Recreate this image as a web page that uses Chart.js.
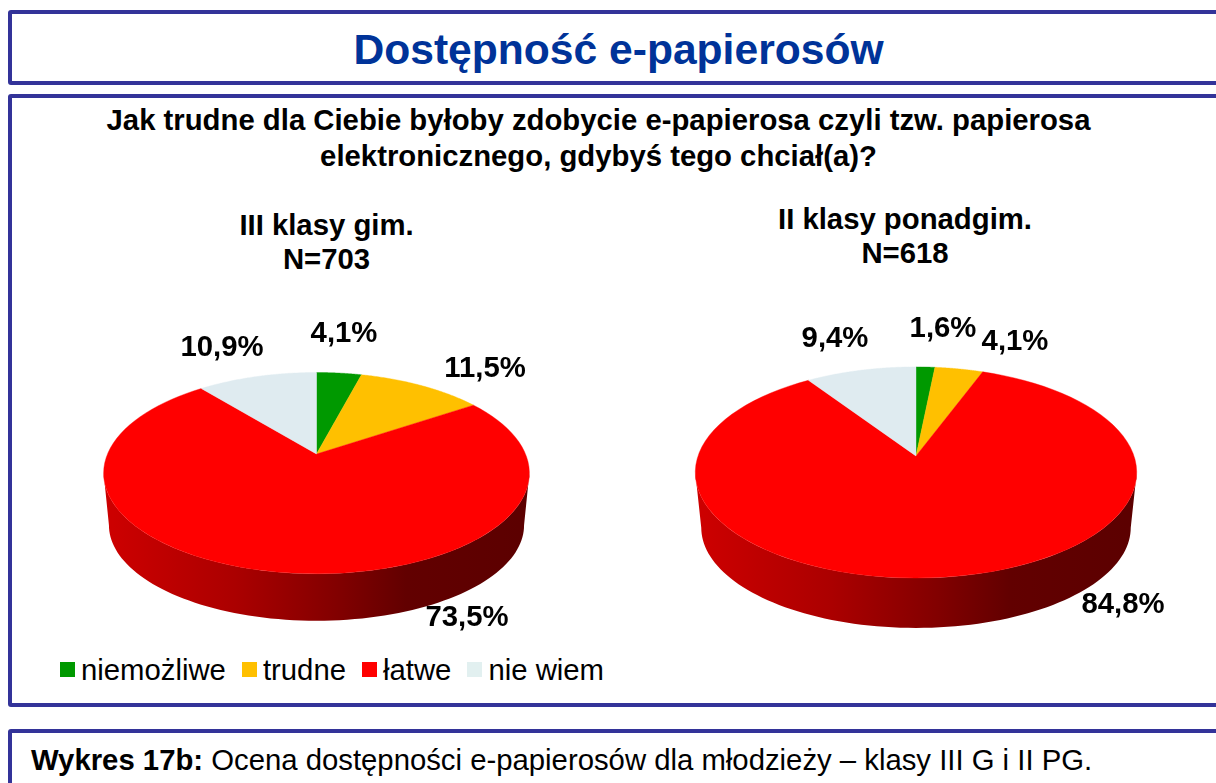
<!DOCTYPE html>
<html lang="pl">
<head>
<meta charset="utf-8">
<title>Dostępność e-papierosów</title>
<script src="https://cdn.jsdelivr.net/npm/chart.js@4"></script>
<style>
  html,body{margin:0;padding:0;background:#fff;width:1216px;height:783px;overflow:hidden;font-family:"Liberation Sans",Arial,sans-serif;color:#000}
  .frame{position:absolute;box-sizing:border-box;border:4px solid #333399;border-radius:3px;left:8px;width:1220px;background:#fff}
  .t{position:absolute;white-space:nowrap;text-align:center}
  canvas{position:absolute}
  #legend{position:absolute;left:60px;top:651px;height:38px;display:flex;align-items:center;font-size:29.3px;white-space:nowrap}
  #legend i{display:inline-block;width:15px;height:15px;margin-right:6px;margin-top:-2px}
  #legend span{margin-right:16px}
</style>
</head>
<body>
<div class="frame" style="top:10px;height:75px"></div>
<div class="frame" style="top:94px;height:613px"></div>
<div class="frame" style="top:729px;height:80px"></div>
<div class="t" style="left:0;width:1237px;top:24px;font-size:42.6px;line-height:50px;font-weight:bold;color:#003399">Dostępność e-papierosów</div>
<div class="t" style="left:0;width:1197px;top:102px;font-size:29.3px;line-height:36px;font-weight:bold">Jak trudne dla Ciebie byłoby zdobycie e-papierosa czyli tzw. papierosa<br>elektronicznego, gdybyś tego chciał(a)?</div>
<div class="t" style="left:126.5px;width:400px;top:208px;font-size:29.3px;line-height:34px;font-weight:bold">III klasy gim.<br>N=703</div>
<div class="t" style="left:705px;width:400px;top:202px;font-size:29.3px;line-height:34px;font-weight:bold">II klasy ponadgim.<br>N=618</div>
<div id="legend"></div>
<div class="t" style="left:31px;top:742px;font-size:29.3px;line-height:36px;text-align:left"><b>Wykres 17b:</b> Ocena dostępności e-papierosów dla młodzieży – klasy III G i II PG.</div>
<canvas id="c1" style="left:20px;top:310px"></canvas>
<canvas id="c2" style="left:620px;top:300px"></canvas>
<script>
const categories = ["niemożliwe", "trudne", "łatwe", "nie wiem"];
const gimValues = [4.1, 11.5, 73.5, 10.9];
const pgValues = [1.6, 4.1, 84.8, 9.4];
const sliceColors = ["#009900", "#FFC000", "#FF0000", "#DFEBF0"];
const legendColors = ["#009900", "#FFC000", "#FF0000", "#E2F0F0"];

// legend
document.getElementById('legend').innerHTML = categories.map((c, i) =>
  `<i style="background:${legendColors[i]}"></i><span>${c}</span>`).join('');

// Perspective plate: the slices come from the library's arc angles and are projected.
function project(g, theta, bottom) {
  const u = Math.sin(theta), v = -Math.cos(theta);
  const w = 1 - g.k * v;
  const sx = bottom ? g.bottomScaleX : 1, sy = bottom ? g.bottomScaleY : 1;
  return {
    x: g.cx + g.a * sx * u / w,
    y: (bottom ? g.bottomApexY : g.apexY) + g.b * sy * v / w
  };
}
const shade = [[0, .8], [.3, .67], [.55, .51], [.72, .385], [1, .36]];
function rgb(hex) { const n = parseInt(hex.slice(1), 16); return [n >> 16, (n >> 8) & 255, n & 255]; }

const pie3d = {
  id: 'pie3d',
  beforeDatasetDraw(chart, args, opts) {
    const g = opts.geometry, ctx = chart.ctx, meta = args.meta, N = 90;
    const colors = chart.data.datasets[0].backgroundColor;
    const toTheta = a => a + Math.PI / 2; // library angle -> clockwise from top
    const lo = Math.acos(-g.k), hi = 2 * Math.PI - lo; // silhouette points of the plate
    // side wall
    meta.data.forEach((arc, i) => {
      const s = Math.max(toTheta(arc.startAngle), lo), e = Math.min(toTheta(arc.endAngle), hi);
      if (e <= s) return;
      const left = g.cx - g.a * g.bottomScaleX, right = g.cx + g.a * g.bottomScaleX;
      const gr = ctx.createLinearGradient(left, 0, right, 0);
      const c = rgb(colors[i]);
      shade.forEach(([p, f]) => gr.addColorStop(p, `rgb(${c[0]*f},${c[1]*f},${c[2]*f})`));
      ctx.beginPath();
      for (let j = 0; j <= N; j++) { const p = project(g, s + (e - s) * j / N, false); j ? ctx.lineTo(p.x, p.y) : ctx.moveTo(p.x, p.y); }
      for (let j = N; j >= 0; j--) { const p = project(g, s + (e - s) * j / N, true); ctx.lineTo(p.x, p.y); }
      ctx.closePath();
      ctx.fillStyle = gr;
      ctx.fill();
    });
    // top face
    meta.data.forEach((arc, i) => {
      const s = toTheta(arc.startAngle), e = toTheta(arc.endAngle);
      ctx.beginPath();
      ctx.moveTo(g.cx, g.apexY);
      for (let j = 0; j <= N; j++) { const p = project(g, s + (e - s) * j / N, false); ctx.lineTo(p.x, p.y); }
      ctx.closePath();
      ctx.fillStyle = colors[i];
      ctx.fill();
      ctx.strokeStyle = colors[i];
      ctx.lineWidth = .4;
      ctx.stroke();
    });
    return false;
  },
  afterDatasetsDraw(chart, args, opts) {
    const ctx = chart.ctx, vals = chart.data.datasets[0].data;
    ctx.save();
    ctx.font = 'bold 29.3px "Liberation Sans", Arial, sans-serif';
    ctx.fillStyle = '#000';
    ctx.textAlign = 'center';
    ctx.textBaseline = 'middle';
    vals.forEach((v, i) => {
      const [x, y] = opts.labelAt[i];
      ctx.fillText(v.toFixed(1).replace('.', ',') + '%', x, y);
    });
    ctx.restore();
  }
};

function makePie(id, values, w, h, geometry, labelAt) {
  const el = document.getElementById(id);
  el.width = w; el.height = h; el.style.width = w + 'px'; el.style.height = h + 'px';
  return new Chart(el, {
    type: 'pie',
    data: { labels: categories, datasets: [{ data: values, backgroundColor: sliceColors, borderWidth: 0 }] },
    options: {
      responsive: false, animation: false,
      plugins: { legend: { display: false }, tooltip: { enabled: false }, pie3d: { geometry, labelAt } }
    },
    plugins: [pie3d]
  });
}

// canvas 1 origin (20,310)
makePie('c1', gimValues, 590, 330, {
  cx: 296.5, apexY: 144, a: 209, b: 97, k: .19,
  bottomApexY: 197, bottomScaleX: .975, bottomScaleY: .95
}, [[324, 24], [465, 59], [447, 308], [202, 38]]);

// canvas 2 origin (620,300)
makePie('c2', pgValues, 590, 345, {
  cx: 296, apexY: 156, a: 218, b: 103, k: .156,
  bottomApexY: 212, bottomScaleX: .973, bottomScaleY: .95
}, [[323, 29], [395, 42], [503, 305], [215, 39]]);
</script>
</body>
</html>
